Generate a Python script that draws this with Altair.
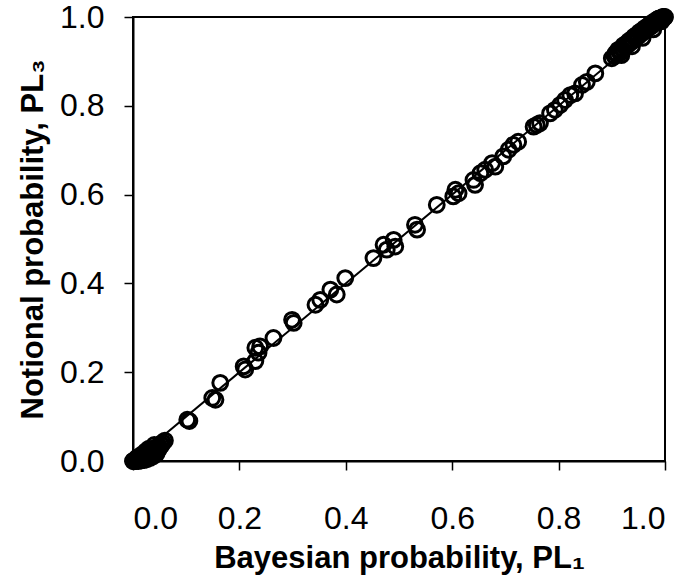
import altair as alt
import pandas as pd

# Bayesian probability (PL1) vs notional probability (PL3) for each case
pl1 = [
    0.000, 0.002, 0.004, 0.006, 0.008, 0.010, 0.012, 0.014, 0.016, 0.018,
    0.020, 0.022, 0.025, 0.027, 0.030, 0.033, 0.036, 0.039, 0.042, 0.045,
    0.048, 0.052, 0.056, 0.060,
    0.004, 0.010, 0.015, 0.020, 0.026, 0.032, 0.038, 0.044, 0.008, 0.016,
    0.024, 0.030, 0.040,
    0.001, 0.003, 0.006, 0.009, 0.013, 0.017, 0.021, 0.028, 0.035, 0.047,
    0.050, 0.054, 0.012, 0.019, 0.034,
    0.102, 0.106, 0.149, 0.155, 0.164, 0.208, 0.211, 0.230, 0.230, 0.239,
    0.236, 0.264, 0.299, 0.302, 0.343, 0.352, 0.371, 0.383, 0.399, 0.452,
    0.471, 0.477, 0.490, 0.493, 0.530, 0.534, 0.571, 0.602, 0.612, 0.606,
    0.640, 0.643, 0.653, 0.662, 0.675, 0.681, 0.696, 0.706, 0.715, 0.724,
    0.753, 0.759, 0.765, 0.784, 0.793, 0.803, 0.812, 0.822, 0.831, 0.844,
    0.853, 0.869, 0.900,
    0.905, 0.910, 0.915, 0.920, 0.925, 0.930, 0.935, 0.940, 0.945, 0.950,
    0.955, 0.960, 0.965, 0.970, 0.975, 0.980, 0.984, 0.988, 0.991, 0.994,
    0.997, 1.000,
    0.912, 0.922, 0.932, 0.942, 0.952, 0.962, 0.972, 0.982, 0.990, 0.996,
    0.918, 0.938, 0.958, 0.978, 0.993,
    0.907, 0.913, 0.917, 0.927, 0.937, 0.947, 0.957, 0.967, 0.977, 0.986,
    0.998, 0.999, 0.995, 0.989, 0.944, 0.964,
]
pl3 = [
    0.000, 0.001, 0.002, 0.003, 0.004, 0.005, 0.006, 0.008, 0.009, 0.010,
    0.012, 0.013, 0.015, 0.017, 0.019, 0.021, 0.024, 0.026, 0.029, 0.031,
    0.034, 0.038, 0.042, 0.046,
    0.000, 0.000, 0.001, 0.002, 0.004, 0.007, 0.011, 0.016, 0.008, 0.014,
    0.022, 0.028, 0.036,
    0.000, 0.000, 0.001, 0.001, 0.002, 0.003, 0.005, 0.009, 0.015, 0.024,
    0.030, 0.036, 0.003, 0.006, 0.012,
    0.093, 0.090, 0.142, 0.138, 0.176, 0.213, 0.206, 0.225, 0.255, 0.258,
    0.244, 0.277, 0.318, 0.311, 0.352, 0.363, 0.386, 0.375, 0.412, 0.457,
    0.487, 0.476, 0.498, 0.483, 0.532, 0.521, 0.577, 0.596, 0.603, 0.611,
    0.633, 0.622, 0.648, 0.656, 0.671, 0.663, 0.686, 0.701, 0.712, 0.719,
    0.753, 0.757, 0.761, 0.783, 0.791, 0.802, 0.813, 0.824, 0.828, 0.847,
    0.854, 0.873, 0.907,
    0.912, 0.917, 0.922, 0.927, 0.932, 0.937, 0.942, 0.947, 0.952, 0.957,
    0.962, 0.967, 0.971, 0.976, 0.980, 0.985, 0.988, 0.991, 0.994, 0.996,
    0.998, 1.000,
    0.926, 0.936, 0.946, 0.956, 0.966, 0.975, 0.984, 0.992, 0.997, 1.000,
    0.914, 0.934, 0.953, 0.972, 0.990,
    0.918, 0.925, 0.920, 0.940, 0.950, 0.960, 0.970, 0.979, 0.988, 0.995,
    1.000, 0.999, 0.999, 0.997, 0.955, 0.974,
]

# 1:1 reference line
line_x = [0.0, 1.0]
line_y = [0.0, 1.0]

ticks = [0.0, 0.2, 0.4, 0.6, 0.8, 1.0]

points = pd.DataFrame({"pl1": pl1, "pl3": pl3})
diag = pd.DataFrame({"pl1": line_x, "pl3": line_y})

FONT = "Liberation Sans"

x_enc = alt.X(
    "pl1:Q",
    scale=alt.Scale(domain=[0, 1], nice=False, zero=False),
    axis=alt.Axis(
        title="Bayesian probability, PL₁",
        values=ticks,
        format=".1f",
        labelPadding=33,
        titlePadding=9,
    ),
)
y_enc = alt.Y(
    "pl3:Q",
    scale=alt.Scale(domain=[0, 1], nice=False, zero=False),
    axis=alt.Axis(
        title="Notional probability, PL₃",
        values=ticks,
        format=".1f",
        labelPadding=20,
        titlePadding=10,
    ),
)

line = alt.Chart(diag).mark_line(color="black", strokeWidth=2).encode(x=x_enc, y=y_enc)

dots = alt.Chart(points).mark_point(
    shape="circle", filled=False, size=220, strokeWidth=3, color="black", opacity=1
).encode(x="pl1:Q", y="pl3:Q")

chart = (
    alt.layer(line, dots)
    .properties(
        width=532,
        height=444,
        autosize="none",
        padding={"left": 133, "top": 17, "right": 26, "bottom": 122},
    )
    .configure_view(stroke="black", strokeWidth=2)
    .configure_axis(
        grid=False,
        domainColor="black",
        domainWidth=2,
        tickColor="black",
        tickWidth=1.5,
        tickSize=9,
        labelFont=FONT,
        labelFontSize=32,
        labelColor="black",
        titleFont=FONT,
        titleFontSize=31,
        titleFontWeight="bold",
        titleColor="black",
    )
)

chart.save("out.html", embed_options={"renderer": "svg", "actions": False})
